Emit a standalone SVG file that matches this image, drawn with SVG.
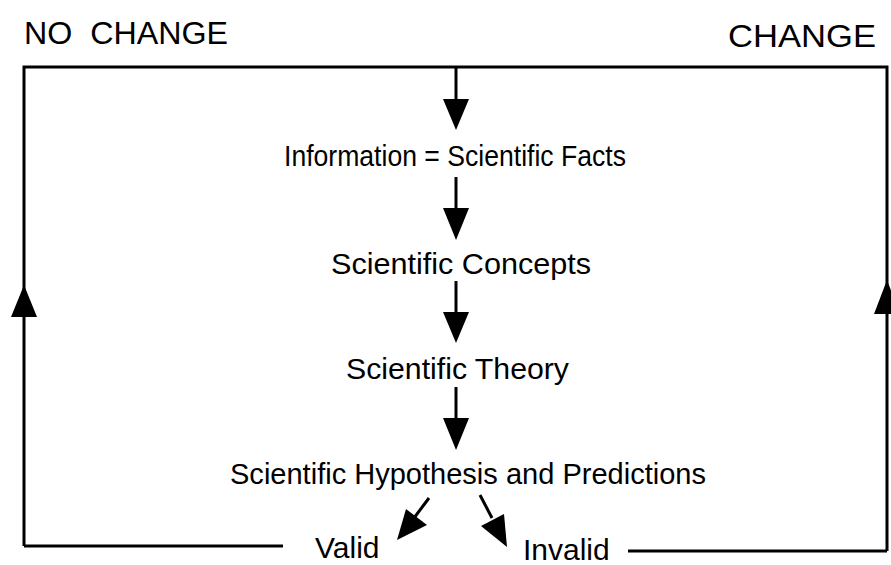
<svg xmlns="http://www.w3.org/2000/svg" width="891" height="565" viewBox="0 0 891 565">
<style>
text{font-family:"Liberation Sans",Arial,Helvetica,sans-serif;font-size:30px;fill:#000}
.top{font-size:32px}
.ln{stroke:#000;stroke-width:3;fill:none}
.ah{fill:#000}
</style>
<rect width="891" height="565" fill="#fff"/>
<g id="connectors">
<path class="ln" d="M24,546 V67 H887 V551"/>
<path class="ln" d="M24,546 H283"/>
<path class="ln" d="M628,551 H887"/>
<polygon class="ah" points="24,285 37,317 11,317"/>
<polygon class="ah" points="887,280 900,314 874,314"/>
<path class="ln" d="M456,67 V100"/>
<polygon class="ah" points="443,99 469,99 456,130"/>
<path class="ln" d="M456,177 V209"/>
<polygon class="ah" points="443,208 469,208 456,240"/>
<path class="ln" d="M456,281 V313"/>
<polygon class="ah" points="443,312 469,312 456,343"/>
<path class="ln" d="M456,387 V419"/>
<polygon class="ah" points="443,418 469,418 456,450"/>
<path class="ln" d="M429,498 L414,518"/>
<polygon class="ah" points="397,540 406,509 427,525"/>
<path class="ln" d="M480,495 L492,518"/>
<polygon class="ah" points="507,547 481,526 504,514"/>
</g>
<g id="no-change"><text class="top" x="24" y="44" textLength="204" lengthAdjust="spacingAndGlyphs" xml:space="preserve">NO  CHANGE</text></g>
<g id="change"><text class="top" x="728" y="47" textLength="148" lengthAdjust="spacingAndGlyphs">CHANGE</text></g>
<g id="facts"><text x="284" y="166" textLength="342" lengthAdjust="spacingAndGlyphs">Information = Scientific Facts</text></g>
<g id="concepts"><text x="331" y="274" textLength="260" lengthAdjust="spacingAndGlyphs">Scientific Concepts</text></g>
<g id="theory"><text x="346" y="379" textLength="223" lengthAdjust="spacingAndGlyphs">Scientific Theory</text></g>
<g id="hypothesis"><text x="230" y="484" textLength="476" lengthAdjust="spacingAndGlyphs">Scientific Hypothesis and Predictions</text></g>
<g id="valid"><text x="315" y="558">Valid</text></g>
<g id="invalid"><text x="523" y="560">Invalid</text></g>
</svg>
